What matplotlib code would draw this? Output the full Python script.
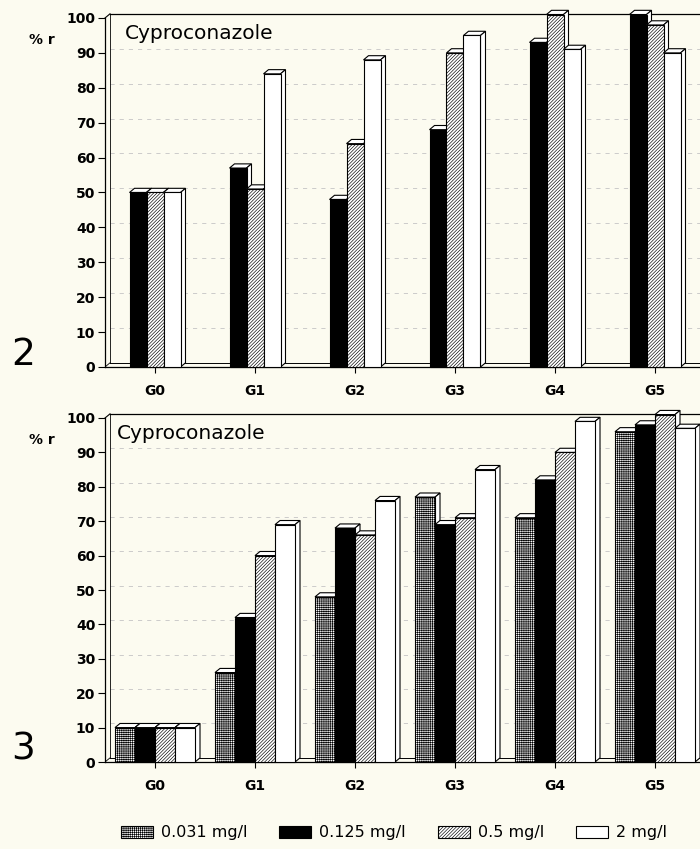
import matplotlib
matplotlib.use('Agg')
import matplotlib.pyplot as plt
from matplotlib.patches import Polygon, Patch

# categories and values
groups = ['G0', 'G1', 'G2', 'G3', 'G4', 'G5']
y_ticks = [0, 10, 20, 30, 40, 50, 60, 70, 80, 90, 100]
conc_labels = ['0.031 mg/l', '0.125 mg/l', '0.5 mg/l', '2 mg/l']

# panel 2 (no 0.031 mg/l series)
p2_0125 = [50, 57, 48, 68, 93, 101]
p2_05 = [50, 51, 64, 90, 101, 98]
p2_2 = [50, 84, 88, 95, 91, 90]

# panel 3
p3_0031 = [10, 26, 48, 77, 71, 96]
p3_0125 = [10, 42, 68, 69, 82, 98]
p3_05 = [10, 60, 66, 71, 90, 101]
p3_2 = [10, 69, 76, 85, 99, 97]

BG = '#fcfbf0'
plt.rcParams['hatch.linewidth'] = 0.45
plt.rcParams['font.family'] = 'DejaVu Sans'

# fill / hatch for each concentration
styles = {
    '0.031 mg/l': ('white', '++++++++'),
    '0.125 mg/l': ('black', None),
    '0.5 mg/l': ('white', '//////////'),
    '2 mg/l': ('white', None),
}

DX = 0.05   # depth offset in x (data units)
DY = 1.2    # depth offset in y (data units)
XMAX = 5.45


def draw_panel(ax, series, labels, width, title_pos):
    ax.set_facecolor(BG)
    ax.set_xlim(-0.5, XMAX)
    ax.set_ylim(0, 100)
    n = len(series)
    x = list(range(len(groups)))

    # back wall, floor and grid
    for v in y_ticks[1:-1]:
        ax.plot([-0.5 + DX, XMAX], [v + DY, v + DY], color='#c4c4c4', lw=0.6,
                ls=(0, (5, 6)), zorder=1)
    ax.plot([-0.5 + DX, XMAX], [DY, DY], color='black', lw=0.7, zorder=1)
    ax.plot([-0.5 + DX, XMAX], [100 + DY, 100 + DY], color='black', lw=0.9,
            zorder=1, clip_on=False)
    ax.plot([-0.5 + DX, -0.5 + DX], [DY, 100 + DY], color='black', lw=0.6,
            zorder=1, clip_on=False)
    ax.plot([-0.5, -0.5 + DX], [100, 100 + DY], color='black', lw=0.8,
            zorder=1, clip_on=False)
    ax.plot([-0.5, -0.5 + DX], [0, DY], color='black', lw=0.6, zorder=1)

    for i, (vals, lab) in enumerate(zip(series, labels)):
        face, hatch = styles[lab]
        off = (i - (n - 1) / 2.0) * width
        xs = [xi + off for xi in x]
        z = 3 + i
        bars = ax.bar(xs, vals, width=width, color=face, edgecolor='black',
                      linewidth=0.8, hatch=hatch, zorder=z + 0.5, clip_on=False)
        for b in bars:
            x0 = b.get_x()
            x1 = x0 + b.get_width()
            h = b.get_height()
            top = Polygon([(x0, h), (x0 + DX, h + DY), (x1 + DX, h + DY), (x1, h)],
                          closed=True, facecolor='white', edgecolor='black',
                          linewidth=0.8, zorder=z, clip_on=False)
            side = Polygon([(x1, 0), (x1 + DX, DY), (x1 + DX, h + DY), (x1, h)],
                           closed=True, facecolor='white', edgecolor='black',
                           linewidth=0.8, zorder=z, clip_on=False)
            ax.add_patch(top)
            ax.add_patch(side)

    ax.spines['top'].set_visible(False)
    ax.spines['right'].set_visible(False)
    ax.spines['left'].set_linewidth(0.9)
    ax.spines['bottom'].set_linewidth(0.9)
    ax.set_yticks(y_ticks)
    ax.set_xticks(x)
    ax.set_xticklabels(groups)
    ax.tick_params(axis='y', direction='out', length=5, width=0.8, pad=2,
                   labelsize=10)
    ax.tick_params(axis='x', direction='out', length=4, width=0.8, pad=8,
                   labelsize=10)
    for t in ax.get_yticklabels() + ax.get_xticklabels():
        t.set_fontweight('bold')
    ax.text(title_pos[0], title_pos[1], 'Cyproconazole', fontsize=14.5,
            va='center', ha='left', zorder=20)


fig = plt.figure(figsize=(7, 8.49), dpi=100, facecolor=BG)

# top panel (2)
ax2 = fig.add_axes([105 / 700, (849 - 367) / 849, 1 - 105 / 700, 349 / 849])
draw_panel(ax2, [p2_0125, p2_05, p2_2], conc_labels[1:], 0.17, (-0.3, 95.7))

# bottom panel (3)
ax3 = fig.add_axes([105 / 700, (849 - 762) / 849, 1 - 105 / 700, 344 / 849])
draw_panel(ax3, [p3_0031, p3_0125, p3_05, p3_2], conc_labels, 0.2, (-0.38, 95.6))

# y labels and panel numbers
fig.text(42 / 700, 1 - 40 / 849, '% r', fontsize=10, fontweight='bold',
         ha='center', va='center')
fig.text(42 / 700, 1 - 440 / 849, '% r', fontsize=10, fontweight='bold',
         ha='center', va='center')
fig.text(23 / 700, 1 - 355 / 849, '2', fontsize=27, ha='center', va='center')
fig.text(23 / 700, 1 - 750 / 849, '3', fontsize=27, ha='center', va='center')

# legend
handles = []
for lab in conc_labels:
    face, hatch = styles[lab]
    handles.append(Patch(facecolor=face, edgecolor='black', hatch=hatch,
                         linewidth=0.8, label=lab))
fig.legend(handles=handles, loc='center', ncol=4, frameon=False,
           bbox_to_anchor=(394 / 700, 1 - 833 / 849), fontsize=11.5,
           handlelength=2.0, handleheight=0.75, handletextpad=0.5,
           columnspacing=2.0)

fig.savefig('out.png', dpi=100, facecolor=BG)
